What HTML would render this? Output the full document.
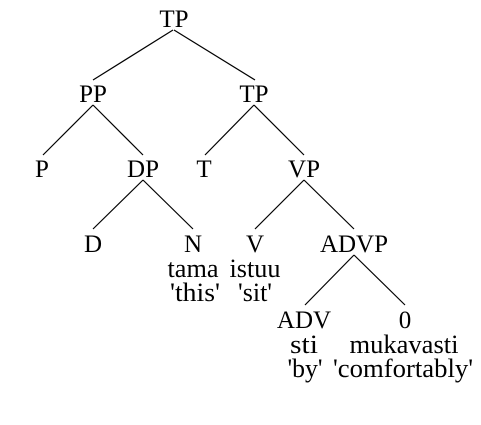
<!DOCTYPE html>
<html><head><style>body{margin:0;background:#fff}</style></head><body>
<svg width="481" height="420" xmlns="http://www.w3.org/2000/svg" font-family="Liberation Serif, serif" font-size="25" text-anchor="middle" fill="#000">
<g stroke="#000" stroke-width="1.2">
<line x1="173" y1="30" x2="93" y2="80"/><line x1="174" y1="30" x2="255" y2="80"/>
<line x1="93" y1="105" x2="43" y2="155"/><line x1="93" y1="105" x2="143" y2="155"/>
<line x1="254" y1="105" x2="205" y2="155"/><line x1="254" y1="105" x2="304" y2="155"/>
<line x1="143" y1="180" x2="93" y2="229"/><line x1="143" y1="180" x2="193" y2="229"/>
<line x1="304" y1="180" x2="255" y2="229"/><line x1="304" y1="180" x2="354" y2="229"/>
<line x1="354" y1="255" x2="305" y2="305"/><line x1="354" y1="255" x2="405" y2="305"/>
</g>
<text x="174" y="27">TP</text>
<text x="93" y="102">PP</text><text x="254" y="102">TP</text>
<text x="42" y="177">P</text><text x="143" y="177">DP</text><text x="204" y="177">T</text><text x="304" y="177">VP</text>
<text x="93" y="252">D</text><text x="193" y="252">N</text><text x="255" y="252">V</text><text x="354" y="252">ADVP</text>
<g font-size="26">
<text x="193" y="277" textLength="51" lengthAdjust="spacingAndGlyphs">tama</text><text x="255" y="277" textLength="51" lengthAdjust="spacingAndGlyphs">istuu</text>
<text x="195" y="301" textLength="50" lengthAdjust="spacingAndGlyphs">'this'</text><text x="255" y="301" textLength="34" lengthAdjust="spacingAndGlyphs">'sit'</text>
<text x="304" y="353" textLength="28" lengthAdjust="spacingAndGlyphs">sti</text><text x="404" y="353" textLength="109" lengthAdjust="spacingAndGlyphs">mukavasti</text>
<text x="305" y="377" textLength="35" lengthAdjust="spacingAndGlyphs">'by'</text><text x="403" y="377" textLength="140" lengthAdjust="spacingAndGlyphs">'comfortably'</text>
</g>
<text x="304" y="328">ADV</text><text x="405" y="328">0</text>
</svg>
</body></html>
